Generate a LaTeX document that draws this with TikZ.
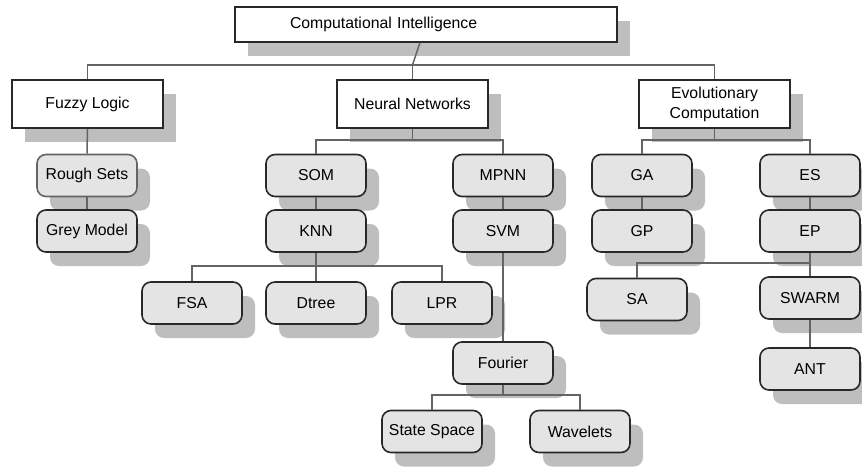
\documentclass[tikz,border=0pt]{standalone}
\usepackage{fontspec}
\setmainfont{Liberation Sans}
\usetikzlibrary{shapes,arrows,shadows}
\definecolor{BoxLine}{RGB}{40,40,40}
\definecolor{WireGray}{RGB}{100,100,100}
\definecolor{SoftGray}{RGB}{228,228,228}
\definecolor{ShadowGray}{RGB}{190,190,190}

\begin{document}
\begin{tikzpicture}[x=1pt,y=-1pt]
				\tikzstyle{catbox}=[draw=BoxLine, fill=white, line width=1.6pt, minimum width=151pt, minimum height=48pt, font=\fontsize{15.8}{20}\selectfont, drop shadow={shadow xshift=13pt, shadow yshift=-14pt, fill=ShadowGray, opacity=1}];
				\tikzstyle{algbox}=[draw=BoxLine, fill=SoftGray, line width=1.6pt, rounded corners=9pt, minimum width=100pt, minimum height=42pt, font=\fontsize{15.8}{20}\selectfont, drop shadow={shadow xshift=13pt, shadow yshift=-14pt, fill=ShadowGray, opacity=1}];
				\tikzstyle{wire}=[draw=WireGray, line width=1.5pt];
				\useasboundingbox (0,0) rectangle (862,466);
				\node [catbox, minimum height=35pt, text width=272pt, inner xsep=55pt, align=left] (root) at (426, 24.5) {Computational Intelligence};
				\node [catbox] (n01) at (87.5, 104) {Fuzzy Logic};
				\node [catbox] (n02) at (412.5, 104) {Neural Networks};
				\node [catbox, align=center] (n03) at (714.5, 104) {Evolutionary\\Computation};
				\node [algbox, draw=WireGray] (n11) at (87, 175.5) {Rough Sets};
				\node [algbox] (n12) at (316, 175.5) {SOM};
				\node [algbox] (n13) at (503, 175.5) {MPNN};
				\node [algbox] (n14) at (642, 175.5) {GA};
				\node [algbox] (n15) at (810, 175.5) {ES};
				\node [algbox] (n21) at (87, 231) {Grey Model};
				\node [algbox] (n22) at (316, 231) {KNN};
				\node [algbox] (n23) at (503, 231) {SVM};
				\node [algbox] (n24) at (642, 231) {GP};
				\node [algbox] (n25) at (810, 231) {EP};
				\node [algbox] (n31) at (192, 303) {FSA};
				\node [algbox] (n32) at (316, 303) {Dtree};
				\node [algbox] (n33) at (442, 303) {LPR};
				\node [algbox] (n34) at (637, 299.5) {SA};
				\node [algbox] (n35) at (810, 298) {SWARM};
				\node [algbox] (n41) at (503, 363) {Fourier};
				\node [algbox] (n42) at (810, 369) {ANT};
				\node [algbox] (n51) at (432, 431.5) {State Space};
				\node [algbox] (n52) at (580, 431.5) {Wavelets};
				\coordinate (j0) at (412.5, 65);
				\coordinate (j1) at (412.5, 140);
				\coordinate (j2) at (714.5, 140);
				\coordinate (j3) at (316, 266);
				\coordinate (j4) at (503, 395);
				\coordinate (j5) at (810, 263);
				\draw [wire] (root) -- (j0);
				\draw [wire] (j0) -| (n01);
				\draw [wire] (j0) -- (n02);
				\draw [wire] (j0) -| (n03);
				\draw [wire] (n01) -- (n11);
				\draw [wire] (n11) -- (n21);
				\draw [wire] (n02) -- (j1);
				\draw [wire] (j1) -| (n12);
				\draw [wire] (j1) -| (n13);
				\draw [wire] (n12) -- (n22);
				\draw [wire] (n13) -- (n23);
				\draw [wire] (n03) -- (j2);
				\draw [wire] (j2) -| (n14);
				\draw [wire] (j2) -| (n15);
				\draw [wire] (n14) -- (n24);
				\draw [wire] (n15) -- (n25);
				\draw [wire] (n22) -- (j3);
				\draw [wire] (j3) -| (n31);
				\draw [wire] (j3) -- (n32);
				\draw [wire] (j3) -| (n33);
				\draw [wire] (n23) -- (n41);
				\draw [wire] (n41) -- (j4);
				\draw [wire] (j4) -| (n51);
				\draw [wire] (j4) -| (n52);
				\draw [wire] (n25) -- (j5);
				\draw [wire] (j5) -| (n34);
				\draw [wire] (j5) -- (n35);
				\draw [wire] (n35) -- (n42);
			\end{tikzpicture}
\end{document}
